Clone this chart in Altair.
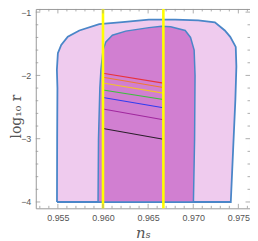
import altair as alt
import pandas as pd

# ---- data ----
outer_ns = [0.9549, 0.95492, 0.95495, 0.95489, 0.9550, 0.95537, 0.9561, 0.95738, 0.95958, 0.96214,
            0.96508, 0.9680, 0.97056, 0.9724, 0.9735, 0.9741, 0.97471, 0.97478, 0.97467, 0.97442, 0.97416]
outer_r = [-4.0, -3.0, -2.2, -1.91, -1.65, -1.52, -1.39, -1.29, -1.19, -1.157,
           -1.12, -1.12, -1.13, -1.16, -1.29, -1.39, -1.55, -1.86, -2.38, -3.17, -4.0]

inner_ns = [0.95945, 0.9595, 0.95965, 0.95977, 0.9600, 0.96032, 0.96104, 0.96252, 0.9651,
            0.9665, 0.9675, 0.96911, 0.9697, 0.9701, 0.9702, 0.97015, 0.97002]
inner_r = [-4.0, -3.0, -2.2, -1.91, -1.6, -1.47, -1.365, -1.30, -1.245,
           -1.225, -1.23, -1.29, -1.40, -1.60, -2.0, -3.0, -4.0]

yellow_ns = [0.9600, 0.96669]

series_names = ["red", "orange", "yellow", "green", "blue", "purple", "black"]
series_colors = ["#E8323A", "#F07A30", "#F2C12E", "#3CBF3C", "#2F3CF0", "#A0289E", "#2A1E2A"]
series_ns_start = [0.9600, 0.9600, 0.9600, 0.9600, 0.9600, 0.9600, 0.9600]
series_ns_end = [0.96669, 0.96669, 0.96669, 0.96669, 0.96669, 0.96669, 0.96669]
series_r_start = [-1.966, -2.03, -2.12, -2.23, -2.35, -2.53, -2.84]
series_r_end = [-2.122, -2.19, -2.28, -2.38, -2.51, -2.70, -3.01]

x_major = [0.955, 0.960, 0.965, 0.970, 0.975]
x_minor = [0.953, 0.954, 0.956, 0.957, 0.958, 0.959, 0.961, 0.962, 0.963, 0.964,
           0.966, 0.967, 0.968, 0.969, 0.971, 0.972, 0.973, 0.974, 0.976]
y_major = [-4, -3, -2, -1]
y_minor = [-3.8, -3.6, -3.4, -3.2, -2.8, -2.6, -2.4, -2.2, -1.8, -1.6, -1.4, -1.2]

X_DOMAIN = [0.95255, 0.97629]
Y_DOMAIN = [-4.1, -0.95]
W, H = 216, 201
GRAY = "#999999"
LABEL = "#555555"

xs = alt.Scale(domain=X_DOMAIN, nice=False, zero=False)
ys = alt.Scale(domain=Y_DOMAIN, nice=False, zero=False)

x_axis = alt.Axis(values=x_major, format=".3f", ticks=False, domain=False, grid=False,
                  labelFontSize=9, labelColor=LABEL, labelPadding=5, labelFont="Liberation Sans",
                  title="nₛ", titleFont="DejaVu Serif", titleFontStyle="italic",
                  titleFontWeight="normal", titleFontSize=15, titleColor=LABEL,
                  titleBaseline="alphabetic", titleY=29)
y_axis = alt.Axis(values=y_major, format="d", ticks=False, domain=False, grid=False,
                  labelFontSize=9, labelColor=LABEL, labelPadding=5, labelFont="Liberation Sans",
                  title="log₁₀ r", titleFont="DejaVu Serif", titleFontWeight="normal",
                  titleFontSize=14, titleColor=LABEL, titleAngle=270, titleBaseline="top",
                  titleX=-26, titleY=108)


def X(field):
    return alt.X(field, type="quantitative", scale=xs, axis=x_axis)


def Y(field):
    return alt.Y(field, type="quantitative", scale=ys, axis=y_axis)


def poly_df(ns, r):
    pts = list(zip(ns, r)) + [(ns[0], r[0])]
    return pd.DataFrame({"ns": [p[0] for p in pts], "r": [p[1] for p in pts],
                         "o": list(range(len(pts)))})


outer = alt.Chart(poly_df(outer_ns, outer_r)).mark_line(
    fill="#EFCBEE", stroke="#4A86C8", strokeWidth=1.8, interpolate="linear"
).encode(x=X("ns"), y=Y("r"), order="o:Q")

inner = alt.Chart(poly_df(inner_ns, inner_r)).mark_line(
    fill="#D17FD1", stroke="#4A86C8", strokeWidth=1.5
).encode(x=X("ns"), y=Y("r"), order="o:Q")

seg_df = pd.DataFrame({"name": series_names, "color": series_colors,
                       "ns": series_ns_start, "ns2": series_ns_end,
                       "r": series_r_start, "r2": series_r_end})
segs = alt.Chart(seg_df).mark_rule(strokeWidth=1.1).encode(
    x=X("ns"), x2="ns2:Q", y=Y("r"), y2="r2:Q",
    color=alt.Color("color:N", scale=None),
)

yellow = alt.Chart(pd.DataFrame({"ns": yellow_ns})).mark_rule(
    color="#FFFF00", strokeWidth=2.6
).encode(x=X("ns"))

xmaj = pd.DataFrame({"ns": x_major})
xmin = pd.DataFrame({"ns": x_minor})
ymaj = pd.DataFrame({"r": y_major})
ymin = pd.DataFrame({"r": y_minor})


def xticks(df, length):
    bottom = alt.Chart(df).mark_rule(color=GRAY, strokeWidth=0.8).encode(
        x=X("ns"), y=alt.value(H), y2=alt.value(H - length))
    top = alt.Chart(df).mark_rule(color=GRAY, strokeWidth=0.8).encode(
        x=X("ns"), y=alt.value(0), y2=alt.value(length))
    return [bottom, top]


def yticks(df, length):
    left = alt.Chart(df).mark_rule(color=GRAY, strokeWidth=0.8).encode(
        y=Y("r"), x=alt.value(0), x2=alt.value(length))
    right = alt.Chart(df).mark_rule(color=GRAY, strokeWidth=0.8).encode(
        y=Y("r"), x=alt.value(W), x2=alt.value(W - length))
    return [left, right]


layers = [outer, inner, segs, yellow] + xticks(xmaj, 4.5) + xticks(xmin, 2.5) + yticks(ymaj, 4.5) + yticks(ymin, 2.5)

chart = alt.layer(*layers).properties(
    width=W, height=H,
    autosize=alt.AutoSizeParams(type="none"),
    padding={"left": 28, "top": 0, "right": 0, "bottom": 33},
).configure_view(stroke=GRAY, strokeWidth=1)

chart.save("out.html", embed_options={"renderer": "svg", "actions": False})
